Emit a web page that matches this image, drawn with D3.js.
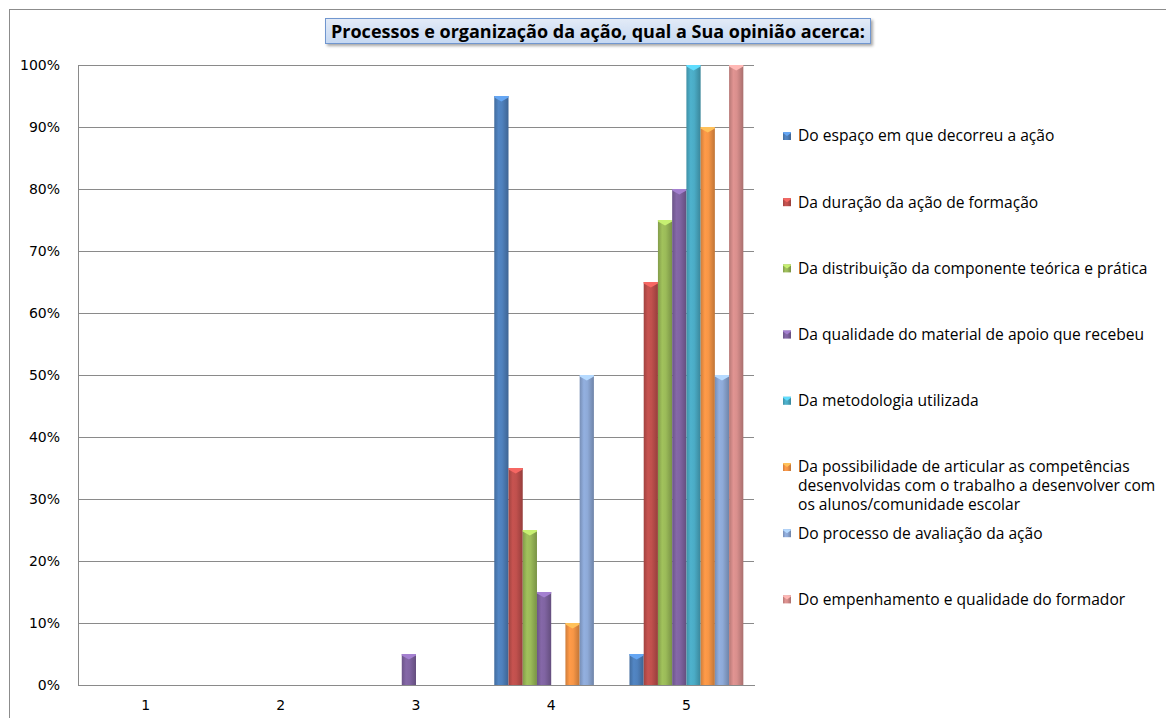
<!DOCTYPE html>
<html>
<head>
<meta charset="utf-8">
<script src="https://cdn.jsdelivr.net/npm/d3@7"></script>
<style>
  body { margin: 0; background: #fff; }
  svg { display: block; }
</style>
</head>
<body>
<div id="chart"></div>
<script>
const categories = ['1', '2', '3', '4', '5'];
const seriesNames = [
  'Do espaço em que decorreu a ação',
  'Da duração da ação de formação',
  'Da distribuição da componente teórica e prática',
  'Da qualidade do material de apoio que recebeu',
  'Da metodologia utilizada',
  'Da possibilidade de articular as competências|desenvolvidas com o trabalho a desenvolver com|os alunos/comunidade escolar',
  'Do processo de avaliação da ação',
  'Do empenhamento e qualidade do formador'
];
const seriesColors = ['#4f81bd', '#c0504d', '#9bbb59', '#8064a2', '#4bacc6', '#f79646', '#8eaad8', '#d98f8d'];
// one array per series, values per category 1..5
const espaco       = [0, 0, 0,    0.95, 0.05];
const duracao      = [0, 0, 0,    0.35, 0.65];
const distribuicao = [0, 0, 0,    0.25, 0.75];
const material     = [0, 0, 0.05, 0.15, 0.80];
const metodologia  = [0, 0, 0,    0,    1.00];
const articular    = [0, 0, 0,    0.10, 0.90];
const avaliacao    = [0, 0, 0,    0.50, 0.50];
const empenhamento = [0, 0, 0,    0,    1.00];
const seriesValues = [espaco, duracao, distribuicao, material, metodologia, articular, avaliacao, empenhamento];
const yTicks = [0, 0.1, 0.2, 0.3, 0.4, 0.5, 0.6, 0.7, 0.8, 0.9, 1];
const title = 'Processos e organização da ação, qual a Sua opinião acerca:';

const w = 1166, h = 718;
const plot = { left: 78, right: 754, top: 65, bottom: 685 };

const svg = d3.select('#chart').append('svg')
  .attr('width', w)
  .attr('height', h);

const defs = svg.append('defs');

// outer chart frame (runs off the page at right and bottom)
svg.append('rect')
  .attr('x', 9.5).attr('y', 9.5)
  .attr('width', 1300).attr('height', 900)
  .attr('fill', '#fff')
  .attr('stroke', '#8c8c8c');

const xScale = d3.scaleBand()
  .domain(categories)
  .range([plot.left, plot.right]);

const inner = d3.scaleBand()
  .domain(d3.range(seriesNames.length))
  .range([0, xScale.bandwidth()])
  .paddingOuter(0.75);

const yScale = d3.scaleLinear()
  .domain([0, 1])
  .range([plot.bottom, plot.top]);

// gradients for cylinder-ish bars
seriesColors.forEach((c, i) => {
  const g = defs.append('linearGradient')
    .attr('id', `bar${i}`)
    .attr('x1', 0).attr('x2', 1).attr('y1', 0).attr('y2', 0);
  g.append('stop').attr('offset', '0%').attr('stop-color', d3.color(c).darker(0.5));
  g.append('stop').attr('offset', '30%').attr('stop-color', d3.color(c).brighter(0.1));
  g.append('stop').attr('offset', '55%').attr('stop-color', c);
  g.append('stop').attr('offset', '100%').attr('stop-color', d3.color(c).darker(0.7));
});

const shadow = defs.append('filter').attr('id', 'shadow')
  .attr('x', '-5%').attr('y', '-30%').attr('width', '115%').attr('height', '190%');
shadow.append('feDropShadow')
  .attr('dx', 2).attr('dy', 2).attr('stdDeviation', 1.5)
  .attr('flood-color', '#000').attr('flood-opacity', 0.35);

const titleGrad = defs.append('linearGradient')
  .attr('id', 'titleGrad').attr('x1', 0).attr('x2', 0).attr('y1', 0).attr('y2', 1);
titleGrad.append('stop').attr('offset', '0%').attr('stop-color', '#e3ebf7');
titleGrad.append('stop').attr('offset', '100%').attr('stop-color', '#c5d8f2');

// gridlines
const yAxis = d3.axisLeft(yScale)
  .tickValues(yTicks)
  .tickSize(-(plot.right - plot.left))
  .tickFormat(d3.format('.0%'))
  .tickPadding(18);

svg.append('g')
  .attr('class', 'y-axis')
  .attr('transform', `translate(${plot.left},0)`)
  .call(yAxis);

svg.selectAll('.y-axis .domain').remove();
svg.selectAll('.y-axis .tick line').attr('stroke', '#8a8a8a').attr('shape-rendering', 'crispEdges');
svg.selectAll('.y-axis .tick text')
  .attr('font-family', 'DejaVu Sans')
  .attr('font-size', 14)
  .attr('fill', '#000');

// left axis line
svg.append('line')
  .attr('x1', plot.left).attr('x2', plot.left)
  .attr('y1', plot.top).attr('y2', plot.bottom)
  .attr('stroke', '#8a8a8a').attr('shape-rendering', 'crispEdges');

const xAxis = d3.axisBottom(xScale).tickSize(0).tickPadding(15);
svg.append('g')
  .attr('class', 'x-axis')
  .attr('transform', `translate(0,${plot.bottom})`)
  .call(xAxis);
svg.selectAll('.x-axis .domain').attr('stroke', '#8a8a8a').attr('shape-rendering', 'crispEdges');
svg.selectAll('.x-axis .tick text')
  .attr('font-family', 'DejaVu Sans')
  .attr('font-size', 14)
  .attr('fill', '#000');

// bars
const bars = [];
seriesValues.forEach((vals, s) => {
  vals.forEach((v, c) => {
    if (v > 0) bars.push({ s, cat: categories[c], v });
  });
});

const barG = svg.append('g').selectAll('g')
  .data(bars)
  .enter()
  .append('g');

barG.append('rect')
  .attr('x', d => xScale(d.cat) + inner(d.s))
  .attr('y', d => yScale(d.v))
  .attr('width', inner.bandwidth())
  .attr('height', d => yScale(0) - yScale(d.v))
  .attr('fill', d => `url(#bar${d.s})`);

// top cap, lighter chevron
barG.append('path')
  .attr('d', d => {
    const x0 = xScale(d.cat) + inner(d.s);
    const bw = inner.bandwidth();
    const y0 = yScale(d.v);
    return `M${x0},${y0}L${x0 + bw},${y0}L${x0 + bw},${y0 + 1.5}L${x0 + bw / 2},${y0 + 5.5}L${x0},${y0 + 1.5}Z`;
  })
  .attr('fill', d => d3.color(seriesColors[d.s]).brighter(0.7));

// title
const titleG = svg.append('g');
const titleText = titleG.append('text')
  .attr('x', 598)
  .attr('y', 37.5)
  .attr('text-anchor', 'middle')
  .attr('font-family', 'Open Sans')
  .attr('font-weight', 'bold')
  .attr('font-size', 18)
  .attr('fill', '#000')
  .text(title);
const tb = titleText.node().getBBox();
titleG.insert('rect', 'text')
  .attr('x', tb.x - 5.5)
  .attr('y', 18.5)
  .attr('width', tb.width + 11)
  .attr('height', 25)
  .attr('fill', 'url(#titleGrad)')
  .attr('stroke', '#6f96cf')
  .attr('filter', 'url(#shadow)');

// legend
const legendStep = 66.2;
const legend = svg.append('g')
  .selectAll('g')
  .data(seriesNames)
  .enter()
  .append('g')
  .attr('transform', (d, i) => `translate(783,${136 + i * legendStep})`);

legend.append('rect')
  .attr('x', 0).attr('y', -4)
  .attr('width', 8).attr('height', 8)
  .attr('fill', (d, i) => `url(#bar${i})`);

legend.append('path')
  .attr('d', 'M0,-4L8,-4L8,-3L4,0L0,-3Z')
  .attr('fill', (d, i) => d3.color(seriesColors[i]).brighter(0.7));

legend.append('text')
  .attr('x', 15)
  .attr('font-family', 'Open Sans')
  .attr('font-size', 15.6)
  .attr('fill', '#000')
  .selectAll('tspan')
  .data(d => d.split('|'))
  .enter()
  .append('tspan')
  .attr('x', 15)
  .attr('dy', (d, i) => i === 0 ? '0.35em' : 18.8)
  .text(d => d);
</script>
</body>
</html>
